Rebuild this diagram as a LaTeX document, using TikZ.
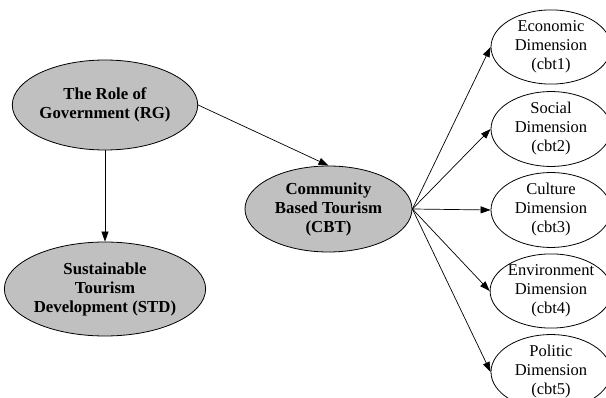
\documentclass[tikz,border=0pt]{standalone}
\usepackage{fontspec}
\setmainfont{Liberation Serif}
\usetikzlibrary{shapes.geometric,arrows.meta}
\definecolor{nodegray}{RGB}{192,192,192}
\begin{document}
\begin{tikzpicture}[x=1pt,y=-1pt,
  grayell/.style={ellipse,draw,line width=0.8pt,fill=nodegray,inner sep=0pt,align=center,
    font=\fontsize{16.8}{19}\selectfont\bfseries},
  whiteell/.style={ellipse,draw,line width=0.8pt,fill=white,inner sep=0pt,align=center,
    font=\fontsize{16.5}{19}\selectfont, minimum width=120pt, minimum height=70pt},
  conn/.style={draw,line width=0.7pt,-{Triangle[length=10pt,width=7pt]}}]
\useasboundingbox (0,0) rectangle (606,398);
\node[grayell,minimum width=184pt,minimum height=90pt] (rg) at (105,105) {The Role of\\Government (RG)};
\node[grayell,minimum width=184pt,minimum height=94pt] (std) at (105,289) {Sustainable\\Tourism\\Development (STD)};
\node[grayell,minimum width=167pt,minimum height=86pt] (cbt) at (328.5,209) {Community\\Based Tourism\\(CBT)};
\node[whiteell] (e1) at (551,47) {Economic\\Dimension\\(cbt1)};
\node[whiteell] (e2) at (551,129) {Social\\Dimension\\(cbt2)};
\node[whiteell] (e3) at (551,210) {Culture\\Dimension\\(cbt3)};
\node[whiteell] (e4) at (551,291) {Environment\\Dimension\\(cbt4)};
\node[whiteell] (e5) at (551,372) {Politic\\Dimension\\(cbt5)};
\draw[conn] (rg.south) -- (std.north);
\draw[conn] (rg.east) -- (cbt.north);
\foreach \i in {1,...,5} {\draw[conn] (cbt.east) -- (e\i.west);}
\end{tikzpicture}
\end{document}
